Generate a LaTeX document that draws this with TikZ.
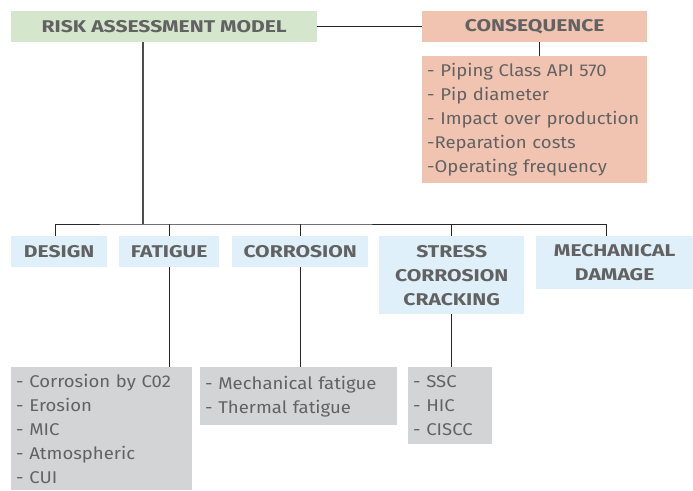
\documentclass[tikz,border=0pt]{standalone}
\usepackage{fontspec}
\setmainfont[FakeStretch=1.09]{Fira Sans}
\newfontfamily\headfont[FakeStretch=1.24]{Fira Sans}
\usetikzlibrary{positioning}
\definecolor{riskgreen}{RGB}{212,230,203}
\definecolor{conssalmon}{RGB}{240,196,177}
\definecolor{catblue}{RGB}{223,240,250}
\definecolor{listgray}{RGB}{211,212,214}
\definecolor{txtgray}{RGB}{98,98,98}
\tikzset{
  box/.style={anchor=north west, inner sep=0pt, text=txtgray,
    font=\fontsize{17}{24}\selectfont},
  head/.style={box, font=\headfont\fontsize{17}{24}\selectfont\bfseries, align=center},
  items/.style={box, align=left, inner xsep=5pt},
  link/.style={line width=1pt, black!85}
}
\begin{document}
\begin{tikzpicture}[x=1pt,y=-1pt]
  \useasboundingbox (0,0) rectangle (693,490);

  % top row
  \node[head, fill=riskgreen, minimum width=306, minimum height=31] (risk) at (11,11) {RISK ASSESSMENT MODEL};
  \node[head, fill=conssalmon, minimum width=225, minimum height=31] (cons) at (422,11) {CONSEQUENCE};
  \node[items, fill=conssalmon, text width=215, minimum height=127] (conslist) at (422,56)
    {- Piping Class API 570\\- Pip diameter\\- Impact over production\\-Reparation costs\\-Operating frequency};

  % categories
  \node[head, fill=catblue, minimum width=96, minimum height=31] (design) at (11,236) {DESIGN};
  \node[head, fill=catblue, minimum width=100, minimum height=31] (fatigue) at (119,236) {FATIGUE};
  \node[head, fill=catblue, minimum width=136, minimum height=31] (corrosion) at (232,236) {CORROSION};
  \node[head, fill=catblue, minimum width=145, minimum height=78] (stress) at (379,236) {STRESS\\CORROSION\\CRACKING};
  \node[head, fill=catblue, minimum width=157, minimum height=53] (mech) at (536,236) {MECHANICAL\\DAMAGE};

  % lists
  \node[items, fill=listgray, text width=171, minimum height=123] (lst1) at (11,367)
    {- Corrosion by C02\\- Erosion\\- MIC\\- Atmospheric\\- CUI};
  \node[items, fill=listgray, text width=187, minimum height=58] (lst2) at (200,367)
    {- Mechanical fatigue\\- Thermal fatigue};
  \node[items, fill=listgray, text width=74, minimum height=77] (lst3) at (408,367)
    {- SSC\\- HIC\\- CISCC};

  % connectors
  \coordinate (bus) at (143,224);
  \draw[link, line width=1.3pt] (risk.east) -- (risk.east -| cons.west);
  \draw[link] (cons.south -| 539,0) -- (conslist.north -| 539,0);
  \draw[line width=2pt, black!70] (risk.south -| bus) -- (bus);
  \draw[link] ([xshift=-4pt]design.north) |- (bus) -| ([xshift=-8pt]mech.north);
  \foreach \n in {fatigue,corrosion,stress}
    \draw[link] (\n.north) -- (\n.north |- bus);
  \draw[link] (fatigue.south) -- (fatigue.south |- lst1.north);
  \draw[link] (corrosion.south) -- (corrosion.south |- lst2.north);
  \draw[link] (stress.south) -- (stress.south |- lst3.north);
\end{tikzpicture}
\end{document}
